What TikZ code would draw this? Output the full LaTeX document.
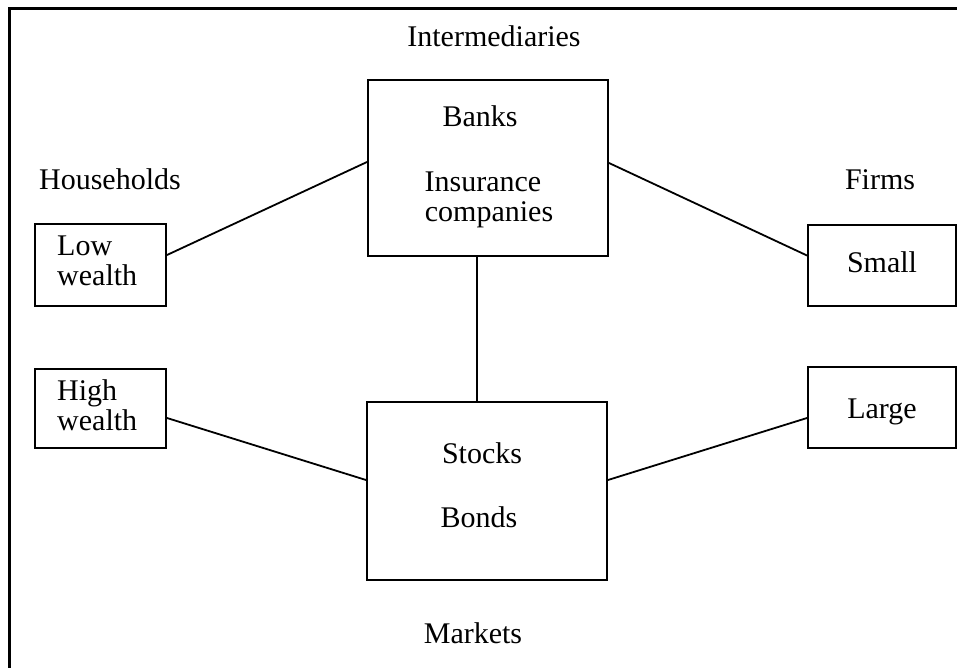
\documentclass[tikz,border=0pt]{standalone}
\usepackage{fontspec}
\setmainfont{Liberation Serif}
\begin{document}
\begin{tikzpicture}[x=1pt,y=-1pt,
  box/.style={draw,line width=2pt,rectangle,inner sep=0pt},
  lbl/.style={font=\fontsize{30}{33}\selectfont,inner sep=0pt,anchor=base},
  lbll/.style={lbl,anchor=base west},
  conn/.style={line width=1.8pt}]
\useasboundingbox (0,0) rectangle (957,668);
\begin{scope}
\clip (0,0) rectangle (957,668);
\draw[line width=3pt] (9,700) -- (9,9) -- (990,9);
\end{scope}
% boxes
\node[box,minimum width=240pt,minimum height=176pt] (top) at (488,168) {};
\node[box,minimum width=240pt,minimum height=178pt] (bot) at (487,491) {};
\node[box,minimum width=131pt,minimum height=82pt] (lw) at (100.5,265) {};
\node[box,minimum width=131pt,minimum height=79pt] (hw) at (100.5,408.5) {};
\node[box,minimum width=148pt,minimum height=81pt] (sm) at (882,265.5) {};
\node[box,minimum width=148pt,minimum height=81pt] (lg) at (882,407.5) {};
% labels
\node[lbl] (tInt) at (494,47) {Intermediaries};
\node[lbl] (tMkt) at (473,643) {Markets};
\node[lbl] (tHh) at (110,190) {Households};
\node[lbl] (tFirms) at (880,190) {Firms};
\node[lbl] (tBanks) at (480,127) {Banks};
\node[lbl] (tIns) at (483,192) {Insurance};
\node[lbl] (tComp) at (489,222) {companies};
\node[lbl] (tStocks) at (482,463) {Stocks};
\node[lbl] (tBonds) at (479,527) {Bonds};
\node[lbll] (tLow) at (57,255) {Low};
\node[lbll] (tLw) at (57,285) {wealth};
\node[lbll] (tHigh) at (57,400) {High};
\node[lbll] (tHw) at (57,430) {wealth};
\node[lbl] (tSmall) at (882,272) {Small};
\node[lbl] (tLarge) at (882,418) {Large};
% connectors
\draw[conn] ([yshift=10pt]lw.east) -- ([yshift=6pt]top.west);
\draw[conn] ([yshift=5pt]top.east) -- ([yshift=10pt]sm.west);
\draw[conn] ([xshift=-11pt]top.south) -- ([xshift=-10pt]bot.north);
\draw[conn] ([yshift=-9.5pt]hw.east) -- ([yshift=11pt]bot.west);
\draw[conn] ([yshift=11pt]bot.east) -- ([yshift=-10.5pt]lg.west);
\end{tikzpicture}
\end{document}
